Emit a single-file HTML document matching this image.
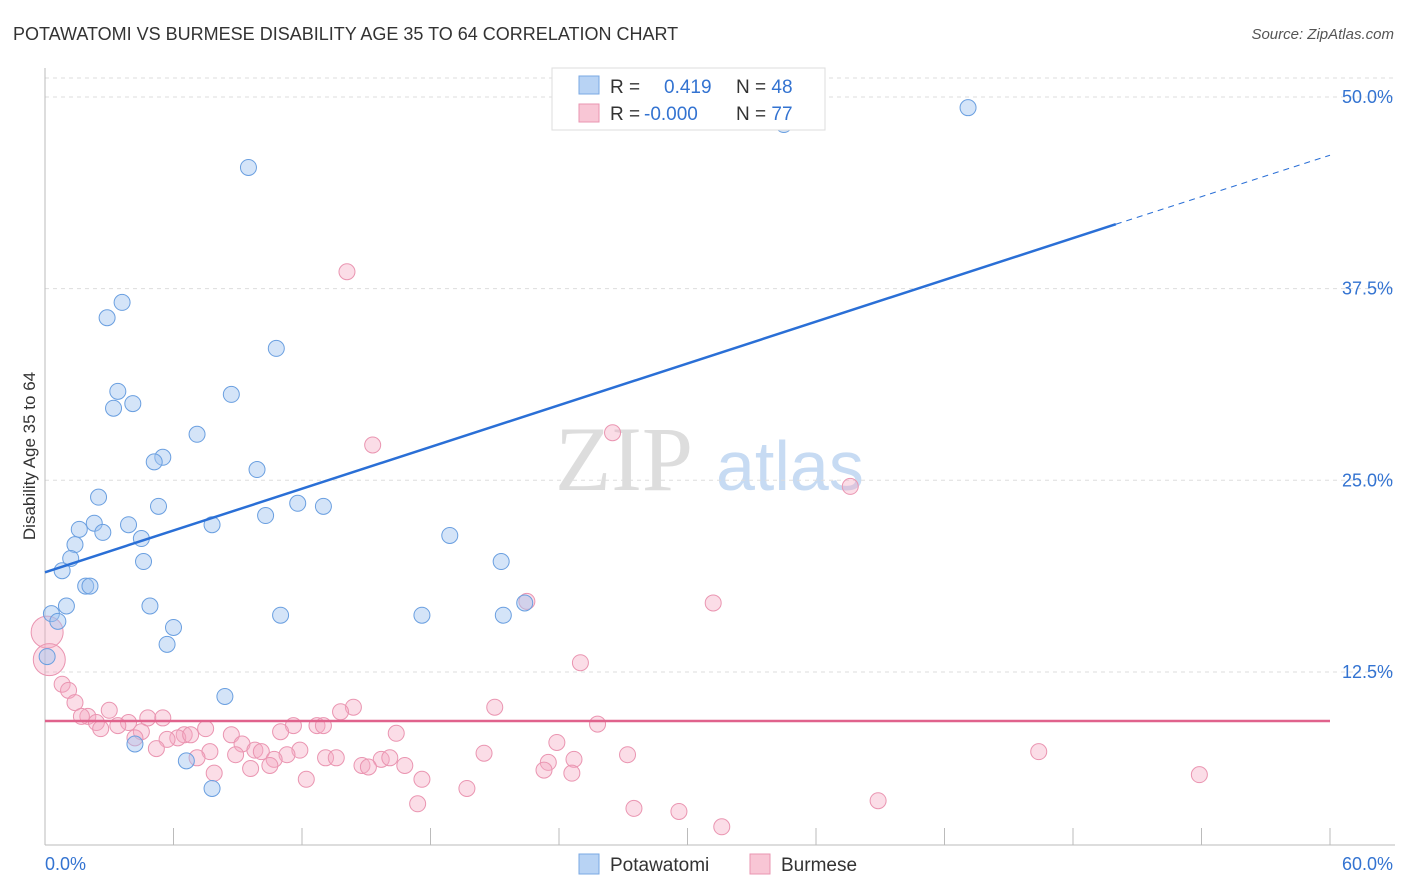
<!DOCTYPE html>
<html><head><meta charset="utf-8"><style>
body{margin:0;background:#fff;font-family:"Liberation Sans",sans-serif;}
svg{display:block}
</style></head><body>
<svg id="c" width="1406" height="892">
<text x="13" y="40" font-size="18" fill="#333">POTAWATOMI VS BURMESE DISABILITY AGE 35 TO 64 CORRELATION CHART</text>
<text x="1394" y="39" font-size="15" fill="#555" text-anchor="end" font-style="italic">Source: ZipAtlas.com</text>
<text x="35" y="456" font-size="17" fill="#333" text-anchor="middle" transform="rotate(-90 35 456)">Disability Age 35 to 64</text>
<text x="555" y="490" font-size="92" fill="#ddd" font-family="Liberation Serif">ZIP</text>
<text x="716" y="490" font-size="70" fill="#c7dbf3">atlas</text>
<g id="grid"></g><g id="pts"></g><g id="lines"></g>
<g>
<rect x="552" y="68" width="273" height="62" fill="#fff" stroke="#ddd"/>
<rect x="579" y="76" width="20" height="18" fill="#b8d3f4" stroke="#7aa8e3"/>
<rect x="579" y="104" width="20" height="18" fill="#f8c6d5" stroke="#ea95b1"/>
<text x="610" y="93" font-size="19" fill="#333">R = <tspan fill="#3373d1" x="664">0.419</tspan><tspan x="736" fill="#333">N = </tspan><tspan fill="#3373d1">48</tspan></text>
<text x="610" y="120" font-size="19" fill="#333">R = <tspan fill="#3373d1" x="644">-0.000</tspan><tspan x="736" fill="#333">N = </tspan><tspan fill="#3373d1">77</tspan></text>
</g>
<g>
<rect x="579" y="854" width="20" height="20" fill="#b8d3f4" stroke="#7aa8e3"/>
<text x="610" y="871" font-size="19" fill="#333">Potawatomi</text>
<rect x="750" y="854" width="20" height="20" fill="#f8c6d5" stroke="#ea95b1"/>
<text x="781" y="871" font-size="19" fill="#333">Burmese</text>
</g>
</svg>
<script>
const yTicks=[12.5,25,37.5,50];
const yTickLabels=["12.5%","25.0%","37.5%","50.0%"];
const xTickLabels=["0.0%","60.0%"];
const blueX=[43.1,34.5,9.5,3.6,2.9,10.8,3.4,8.7,4.1,3.2,7.1,5.5,5.1,9.9,2.5,5.3,11.8,13.0,10.3,1.6,2.3,3.9,7.8,2.7,18.9,4.5,1.4,1.2,4.6,0.8,21.3,1.9,2.1,1.0,4.9,22.4,0.3,11.0,17.6,21.4,0.6,6.0,5.7,0.1,8.4,4.2,6.6,7.8];
const blueY=[49.3,48.2,45.4,36.6,35.6,33.6,30.8,30.6,30.0,29.7,28.0,26.5,26.2,25.7,23.9,23.3,23.5,23.3,22.7,21.8,22.2,22.1,22.1,21.6,21.4,21.2,20.8,19.9,19.7,19.1,19.7,18.1,18.1,16.8,16.8,17.0,16.3,16.2,16.2,16.2,15.8,15.4,14.3,13.5,10.9,7.8,6.7,4.9];
const pinkX=[14.1,15.3,26.5,37.6,22.5,31.2,0.1,0.2,25.0,0.8,1.1,1.4,3.0,2.0,1.7,4.8,5.5,14.4,21.0,13.8,2.4,2.6,3.9,3.4,4.5,7.5,11.6,12.7,13.0,25.8,6.5,6.2,5.7,8.7,6.8,11.0,16.4,4.2,9.2,23.9,5.2,7.7,9.8,10.1,11.9,8.9,11.3,7.1,10.7,13.1,13.6,15.7,16.1,20.5,27.2,46.4,14.8,15.1,16.8,23.5,24.7,10.5,9.6,23.3,24.6,7.9,53.9,12.2,17.6,19.7,17.4,27.5,38.9,29.6,31.6];
const pinkY=[38.6,27.3,28.1,24.6,17.1,17.0,15.1,13.3,13.1,11.7,11.3,10.5,10.0,9.6,9.6,9.5,9.5,10.2,10.2,9.9,9.2,8.8,9.2,9.0,8.6,8.8,9.0,9.0,9.0,9.1,8.4,8.2,8.1,8.4,8.4,8.6,8.5,8.2,7.8,7.9,7.5,7.3,7.4,7.3,7.4,7.1,7.1,6.9,6.8,6.9,6.9,6.8,6.9,7.2,7.1,7.3,6.4,6.3,6.4,6.6,6.8,6.4,6.2,6.1,5.9,5.9,5.8,5.5,5.5,4.9,3.9,3.6,4.1,3.4,2.4];
const pinkBig=[6,7];
const blueFit=[19.0,41.7,46.2];
const pinkFit=9.3;
const NS="http://www.w3.org/2000/svg";
const X=v=>45+v*1285/60, Y=v=>863.6-v*15.333;
function mk(t,a,p){const e=document.createElementNS(NS,t);for(const k in a)e.setAttribute(k,a[k]);p.appendChild(e);return e;}
const g=document.getElementById('grid');
const topLine=mk('line',{x1:45,x2:1395,y1:78,y2:78,stroke:'#ddd','stroke-dasharray':'4,4'},g);


yTicks.forEach((t,i)=>{
 const l=mk('line',{x1:45,x2:1395,y1:Y(t),y2:Y(t),stroke:'#ddd','stroke-dasharray':'4,4'},g);
 
 
 const tx=mk('text',{x:1393,y:Y(t)+6,'font-size':18,fill:'#3373d1','text-anchor':'end'},g);tx.textContent=yTickLabels[i];
 
 
});
const ax=mk('line',{x1:45,x2:45,y1:68,y2:845,stroke:'#bbb'},g);


const bx=mk('line',{x1:45,x2:1395,y1:845,y2:845,stroke:'#bbb'},g);


for(let i=0;i<=10;i++){const t=mk('line',{x1:X(i*6),x2:X(i*6),y1:828,y2:845,stroke:'#bbb'},g);
 
 }
const l0=mk('text',{x:45,y:870,'font-size':18,fill:'#3373d1'},g);l0.textContent=xTickLabels[0];


const l1=mk('text',{x:1393,y:870,'font-size':18,fill:'#3373d1','text-anchor':'end'},g);l1.textContent=xTickLabels[1];


const p=document.getElementById('pts');
pinkX.forEach((x,i)=>{const big=pinkBig.includes(i);
 const c=mk('circle',{cx:X(x),cy:Y(pinkY[i]),r:big?16:8,fill:'rgba(245,170,195,0.4)',stroke:'#ea95b1','stroke-width':1},p);
 
 });
blueX.forEach((x,i)=>{
 const c=mk('circle',{cx:X(x),cy:Y(blueY[i]),r:8,fill:'rgba(160,195,240,0.45)',stroke:'#6a9fe0','stroke-width':1},p);
 
 });
const L=document.getElementById('lines');
const b1=mk('line',{x1:X(0),y1:Y(blueFit[0]),x2:X(50),y2:Y(blueFit[1]),stroke:'#2a6fd6','stroke-width':2.5},L);


const b2=mk('line',{x1:X(50),y1:Y(blueFit[1]),x2:X(60),y2:Y(blueFit[2]),stroke:'#2a6fd6','stroke-width':1,'stroke-dasharray':'6,5'},L);


const pl=mk('line',{x1:X(0),y1:Y(pinkFit),x2:X(60),y2:Y(pinkFit),stroke:'#e0628c','stroke-width':2.5},L);


</script>
</body></html>
